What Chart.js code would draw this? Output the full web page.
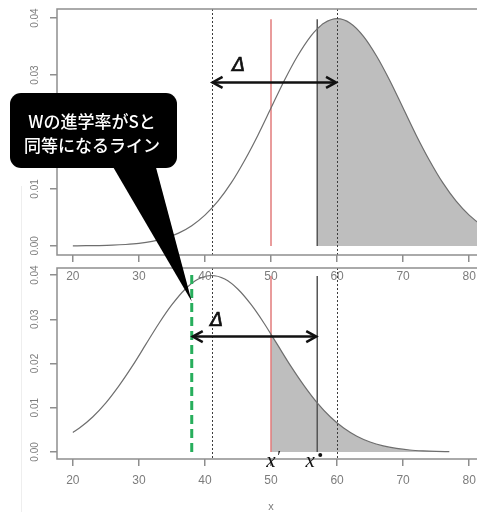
<!DOCTYPE html>
<html>
<head>
<meta charset="utf-8">
<script src="https://cdn.jsdelivr.net/npm/chart.js@4"></script>
<style>
  html, body { margin: 0; padding: 0; background: #fff; }
  #wrap { position: relative; width: 477px; height: 512px; overflow: hidden; }
  #wrap canvas { position: absolute; left: 0; top: 0; }
  #edge { position: absolute; left: 21px; top: 186px; width: 1px; height: 326px; background: #eeeeee; }
</style>
</head>
<body>
<div id="wrap">
  <div id="edge"></div>
  <canvas id="upperChart" width="500" height="512"></canvas>
  <canvas id="lowerChart" width="500" height="512"></canvas>
</div>
<script>
const xTicks = [20, 30, 40, 50, 60, 70, 80];
const yTicks = [0, 0.01, 0.02, 0.03, 0.04];

// upper panel density (centred on 60)
const upperX = [20, 22, 24, 26, 28, 30, 32, 34, 36, 38, 40, 42, 44, 46, 48, 50, 52, 54, 56, 57, 58,
  60, 62, 64, 66, 68, 70, 72, 74, 76, 78, 80, 82, 84];
const upperDensity = [0.00001, 0.00003, 0.00006, 0.00012, 0.00024, 0.00044, 0.00079, 0.00136, 0.00224,
  0.00355, 0.0054, 0.0079, 0.0111, 0.0150, 0.0194, 0.0242, 0.0290, 0.0333, 0.0368, 0.0381, 0.0391,
  0.0399, 0.0391, 0.0368, 0.0333, 0.0290, 0.0242, 0.0194, 0.0150, 0.0111, 0.0079, 0.0054, 0.00355, 0.00224];
const upperShadeFrom = 57;

// lower panel density (centred on 41)
const lowerX = [20, 21, 23, 25, 27, 29, 31, 33, 35, 37, 39, 41, 43, 45, 47, 49, 50, 51, 53, 55, 57,
  59, 61, 63, 65, 67, 69, 71, 73, 75, 77];
const lowerDensity = [0.0044, 0.0054, 0.0079, 0.0111, 0.0150, 0.0194, 0.0242, 0.0290, 0.0333, 0.0368,
  0.0391, 0.0399, 0.0391, 0.0368, 0.0333, 0.0290, 0.0266, 0.0242, 0.0194, 0.0150, 0.0111, 0.0079,
  0.0054, 0.00355, 0.00224, 0.00136, 0.00079, 0.00044, 0.00024, 0.00012, 0.00006];
const lowerShadeFrom = 50;

// reference lines
const redLineX = 50;
const starLineX = 57;
const greenLineX = 38;
const dottedX = [41, 60];
const lineTopY = 0.0398;
const greenTopY = 0.0402;

// Δ arrows
const upperArrowX = [41, 60];
const upperArrowY = 0.0287;
const upperDeltaAt = [45.1, 0.0316];
const lowerArrowX = [38, 57];
const lowerArrowY = 0.0261;
const lowerDeltaAt = [41.8, 0.0295];

// callout tip sits on the green line
const calloutTip = [38, 0.034];
const calloutLines = ['Wの進学率がSと', '同等になるライン'];

const AXIS_GRAY = '#8e8e8e';
const TEXT_GRAY = '#7c7c7c';
const CURVE = '#6e6e6e';

function points(xs, ys, fromX) {
  const pts = [];
  xs.forEach((x, i) => {
    if (fromX === undefined || x >= fromX) pts.push({ x: x, y: ys[i] });
  });
  return pts;
}

function vline(x, y0, y1) {
  return [{ x: x, y: y0 }, { x: x, y: y1 }];
}

function arrowHead(ctx, x, y, dir) {
  ctx.beginPath();
  ctx.moveTo(x - dir * 10, y - 5.5);
  ctx.lineTo(x, y);
  ctx.lineTo(x - dir * 10, y + 5.5);
  ctx.stroke();
}

const panelFrame = {
  id: 'panelFrame',
  afterDatasetsDraw(chart, args, opts) {
    const { ctx, chartArea: a } = chart;
    const x = chart.scales.x, y = chart.scales.y;
    ctx.save();

    // dotted verticals across the panel
    ctx.strokeStyle = '#3c3c3c';
    ctx.lineWidth = 1;
    ctx.setLineDash([2, 2]);
    dottedX.forEach(v => {
      const px = Math.round(x.getPixelForValue(v)) + 0.5;
      ctx.beginPath();
      ctx.moveTo(px, a.top);
      ctx.lineTo(px, a.bottom);
      ctx.stroke();
    });
    ctx.setLineDash([]);

    // box
    ctx.strokeStyle = AXIS_GRAY;
    ctx.lineWidth = 1.5;
    ctx.strokeRect(a.left, a.top, a.right - a.left, a.bottom - a.top);

    // y tick labels, rotated
    ctx.fillStyle = TEXT_GRAY;
    ctx.font = '10px "Liberation Sans"';
    ctx.textAlign = 'center';
    ctx.textBaseline = 'middle';
    yTicks.forEach(v => {
      ctx.save();
      ctx.translate(35, y.getPixelForValue(v));
      ctx.rotate(-Math.PI / 2);
      ctx.fillText(v.toFixed(2), 0, 0);
      ctx.restore();
    });

    // Δ arrow
    const ay = y.getPixelForValue(opts.arrowY);
    const x0 = x.getPixelForValue(opts.arrowX[0]);
    const x1 = x.getPixelForValue(opts.arrowX[1]);
    ctx.strokeStyle = '#111';
    ctx.lineWidth = 2.5;
    ctx.beginPath();
    ctx.moveTo(x0 + 1, ay);
    ctx.lineTo(x1 - 1, ay);
    ctx.stroke();
    arrowHead(ctx, x0 + 1, ay, -1);
    arrowHead(ctx, x1 - 1, ay, 1);

    ctx.fillStyle = '#111';
    ctx.font = 'italic 19px "DejaVu Sans"';
    ctx.lineWidth = 0.7;
    const dx = x.getPixelForValue(opts.deltaAt[0]);
    const dy = y.getPixelForValue(opts.deltaAt[1]);
    ctx.fillText('Δ', dx, dy);
    ctx.strokeText('Δ', dx, dy);
    ctx.restore();
  }
};

// x′ / x* markers and the speech bubble, lower panel only
const lowerNotes = {
  id: 'lowerNotes',
  afterDraw(chart) {
    const { ctx } = chart;
    const x = chart.scales.x, y = chart.scales.y;
    ctx.save();
    ctx.fillStyle = '#111';
    ctx.textAlign = 'center';
    ctx.textBaseline = 'alphabetic';
    const yb = chart.chartArea.bottom + 8;
    const pxA = x.getPixelForValue(redLineX);
    ctx.font = 'italic 21px "Liberation Serif"';
    ctx.fillText('x', pxA, yb);
    ctx.font = 'italic 17px "Liberation Serif"';
    ctx.fillText('\u2032', pxA + 7, yb - 5);
    const pxB = x.getPixelForValue(starLineX);
    ctx.font = 'italic 21px "Liberation Serif"';
    ctx.fillText('x', pxB - 7, yb);
    ctx.beginPath();
    ctx.arc(pxB + 3, yb - 12, 2, 0, Math.PI * 2);
    ctx.fill();

    // bubble
    const tipX = x.getPixelForValue(calloutTip[0]);
    const tipY = y.getPixelForValue(calloutTip[1]);
    ctx.fillStyle = '#000';
    ctx.beginPath();
    ctx.roundRect(10, 93, 167, 75, 11);
    ctx.fill();
    ctx.beginPath();
    ctx.moveTo(109, 160);
    ctx.lineTo(154, 160);
    ctx.lineTo(tipX, tipY);
    ctx.closePath();
    ctx.fill();

    ctx.fillStyle = '#fff';
    ctx.font = '500 17px "Noto Sans CJK JP"';
    ctx.textAlign = 'center';
    ctx.textBaseline = 'middle';
    ctx.fillText(calloutLines[0], 92, 122);
    ctx.fillText(calloutLines[1], 92, 146);
    ctx.restore();
  }
};

function panelOptions(padding, xHeight, frameOpts, showTitle) {
  return {
    responsive: false,
    devicePixelRatio: 1,
    animation: false,
    events: [],
    layout: { padding: padding },
    plugins: {
      legend: { display: false },
      tooltip: { enabled: false },
      panelFrame: frameOpts
    },
    elements: { point: { radius: 0 } },
    scales: {
      x: {
        type: 'linear',
        min: 17.6,
        max: 82.4,
        afterBuildTicks: s => { s.ticks = xTicks.map(v => ({ value: v })); },
        afterFit: s => { s.height = xHeight; },
        border: { display: false },
        grid: { drawOnChartArea: false, tickLength: 7, color: AXIS_GRAY, lineWidth: 1.5 },
        ticks: { color: TEXT_GRAY, font: { family: 'Liberation Sans', size: 12 }, padding: 7, maxRotation: 0 },
        title: {
          display: showTitle,
          text: 'x',
          color: TEXT_GRAY,
          font: { family: 'Liberation Sans', size: 11 },
          padding: { top: 0, bottom: -2 }
        }
      },
      y: {
        type: 'linear',
        min: -0.0016,
        max: 0.0416,
        afterBuildTicks: s => { s.ticks = yTicks.map(v => ({ value: v })); },
        afterFit: s => { s.width = 40; },
        border: { display: false },
        grid: { drawOnChartArea: false, tickLength: 7, color: AXIS_GRAY, lineWidth: 1.5 },
        ticks: { display: false }
      }
    }
  };
}

new Chart(document.getElementById('upperChart'), {
  type: 'line',
  data: {
    datasets: [
      { data: points(upperX, upperDensity), borderColor: CURVE, borderWidth: 1.2, cubicInterpolationMode: 'monotone', order: 1 },
      { data: vline(redLineX, 0, lineTopY), borderColor: '#e27b7b', borderWidth: 1.5, order: 2 },
      { data: vline(starLineX, 0, lineTopY), borderColor: '#555', borderWidth: 1.5, order: 2 },
      { data: points(upperX, upperDensity, upperShadeFrom), borderWidth: 0, borderColor: 'rgba(0,0,0,0)',
        backgroundColor: '#bebebe', fill: 'origin', cubicInterpolationMode: 'monotone', order: 5 }
    ]
  },
  options: panelOptions({ left: 17, top: 9, right: 15, bottom: 227 }, 30,
    { arrowX: upperArrowX, arrowY: upperArrowY, deltaAt: upperDeltaAt }, false),
  plugins: [panelFrame]
});

new Chart(document.getElementById('lowerChart'), {
  type: 'line',
  data: {
    datasets: [
      { data: points(lowerX, lowerDensity), borderColor: CURVE, borderWidth: 1.2, cubicInterpolationMode: 'monotone', order: 1 },
      { data: vline(redLineX, 0, lineTopY), borderColor: '#e27b7b', borderWidth: 1.5, order: 2 },
      { data: vline(starLineX, 0, lineTopY), borderColor: '#555', borderWidth: 1.5, order: 2 },
      { data: vline(greenLineX, 0, greenTopY), borderColor: '#27ae5c', borderWidth: 3, borderDash: [9, 5], order: 0 },
      { data: points(lowerX, lowerDensity, lowerShadeFrom), borderWidth: 0, borderColor: 'rgba(0,0,0,0)',
        backgroundColor: '#bebebe', fill: 'origin', cubicInterpolationMode: 'monotone', order: 5 }
    ]
  },
  options: panelOptions({ left: 17, top: 268, right: 15, bottom: 0 }, 53,
    { arrowX: lowerArrowX, arrowY: lowerArrowY, deltaAt: lowerDeltaAt }, true),
  plugins: [panelFrame, lowerNotes]
});
</script>
</body>
</html>
